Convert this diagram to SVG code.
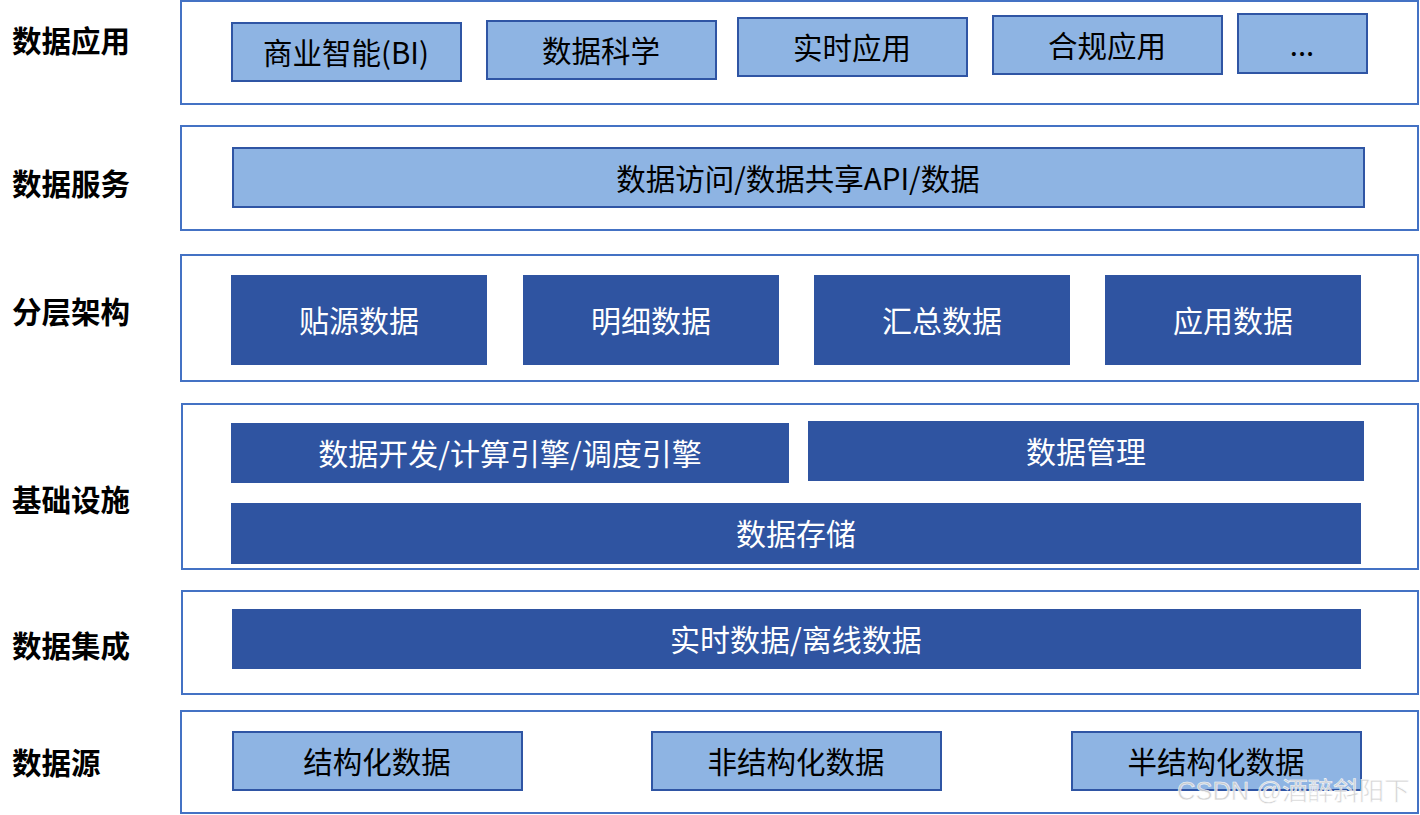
<svg xmlns="http://www.w3.org/2000/svg" width="1420" height="815" viewBox="0 0 1420 815">
<style>
.band{fill:#fff;stroke:#4472C4;stroke-width:2}
.lt{fill:#8EB4E3;stroke:#2F55A4;stroke-width:2}
.dk{fill:#2F54A1}
.lab{font-family:"Noto Sans CJK SC","Noto Sans",sans-serif;font-weight:bold;font-size:29.5px;fill:#000}
.t{font-family:"Noto Sans CJK SC","Noto Sans",sans-serif;font-size:29.5px;fill:#000;text-anchor:middle;dominant-baseline:central}
.w{font-family:"Noto Sans CJK SC","Noto Sans",sans-serif;font-size:30px;fill:#fff;text-anchor:middle;dominant-baseline:central}
.wm{font-family:"Liberation Sans","Noto Sans CJK SC",sans-serif;font-size:25.5px;fill:#cfcfcf;stroke:#fff;stroke-width:0.6;opacity:0.9}
</style>
<rect width="1420" height="815" fill="#fff"/>
<g id="labels">
<text class="lab" x="12" y="52">数据应用</text>
<text class="lab" x="12" y="195">数据服务</text>
<text class="lab" x="12" y="323">分层架构</text>
<text class="lab" x="12" y="511">基础设施</text>
<text class="lab" x="12" y="657">数据集成</text>
<text class="lab" x="12" y="774">数据源</text>
</g>
<g id="band-app"><rect class="band" x="181" y="1" width="1237" height="103"/></g>
<g id="band-service"><rect class="band" x="181" y="126" width="1237" height="104"/></g>
<g id="band-layer"><rect class="band" x="181" y="255" width="1237" height="126"/></g>
<g id="band-infra"><rect class="band" x="182" y="404" width="1236" height="165"/></g>
<g id="band-integ"><rect class="band" x="182" y="591" width="1236" height="103"/></g>
<g id="band-source"><rect class="band" x="181" y="711" width="1237" height="102"/></g>

<g id="bi"><rect class="lt" x="232" y="23" width="229" height="58"/><text class="t" x="346" y="51">商业智能(BI)</text></g>
<g id="ds"><rect class="lt" x="487" y="21" width="229" height="58"/><text class="t" x="601" y="49">数据科学</text></g>
<g id="rt"><rect class="lt" x="738" y="18" width="229" height="58"/><text class="t" x="852" y="46">实时应用</text></g>
<g id="cp"><rect class="lt" x="993" y="16" width="229" height="58"/><text class="t" x="1107" y="44">合规应用</text></g>
<g id="more"><rect class="lt" x="1238" y="14" width="129" height="59"/><text class="t" x="1302" y="43">...</text></g>

<g id="api"><rect class="lt" x="233" y="148" width="1131" height="59"/><text class="t" x="798" y="177">数据访问/数据共享API/数据</text></g>

<g id="ods"><rect class="dk" x="231" y="275" width="256" height="90"/><text class="w" x="359" y="319">贴源数据</text></g>
<g id="dwd"><rect class="dk" x="523" y="275" width="256" height="90"/><text class="w" x="651" y="319">明细数据</text></g>
<g id="dws"><rect class="dk" x="814" y="275" width="256" height="90"/><text class="w" x="942" y="319">汇总数据</text></g>
<g id="ads"><rect class="dk" x="1105" y="275" width="256" height="90"/><text class="w" x="1233" y="319">应用数据</text></g>

<g id="dev"><rect class="dk" x="231" y="423" width="558" height="60"/><text class="w" x="510" y="452">数据开发/计算引擎/调度引擎</text></g>
<g id="mgmt"><rect class="dk" x="808" y="421" width="556" height="60"/><text class="w" x="1086" y="450">数据管理</text></g>
<g id="store"><rect class="dk" x="231" y="503" width="1130" height="61"/><text class="w" x="796" y="532">数据存储</text></g>

<g id="integ"><rect class="dk" x="232" y="609" width="1129" height="60"/><text class="w" x="796" y="638">实时数据/离线数据</text></g>

<g id="struct"><rect class="lt" x="233" y="732" width="289" height="58"/><text class="t" x="377" y="760">结构化数据</text></g>
<g id="unstruct"><rect class="lt" x="652" y="732" width="289" height="58"/><text class="t" x="796" y="760">非结构化数据</text></g>
<g id="semi"><rect class="lt" x="1072" y="732" width="289" height="58"/><text class="t" x="1216" y="760">半结构化数据</text></g>

<g id="connectors"></g>
<text class="wm" x="1177" y="800">CSDN @酒醉斜阳下</text>
</svg>
